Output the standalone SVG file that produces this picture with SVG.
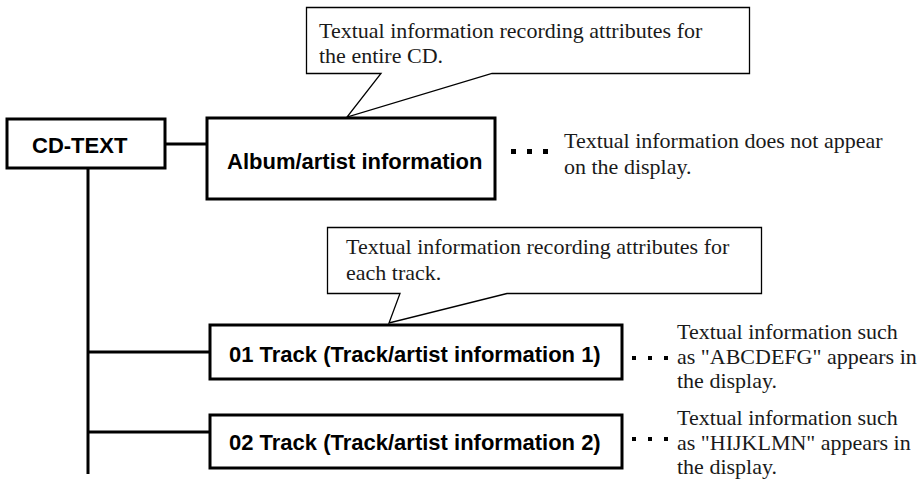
<svg xmlns="http://www.w3.org/2000/svg" width="923" height="488" viewBox="0 0 923 488">
<style>
.box{fill:#fff;stroke:#000;stroke-width:3}
.call{fill:#fff;stroke:#000;stroke-width:1.3;stroke-linejoin:miter}
.bold{font-family:"Liberation Sans",Arial,sans-serif;font-weight:bold;font-size:22px;fill:#000}
.serif{font-family:"Liberation Serif","Times New Roman",serif;font-size:22px;fill:#1a1a1a}
.line{stroke:#000;stroke-width:3;fill:none}
.dot{fill:#000}
</style>
<rect width="923" height="488" fill="#fff"/>
<g id="connectors">
<line class="line" x1="165" y1="144" x2="207" y2="144"/>
<line class="line" x1="88" y1="168" x2="88" y2="474"/>
<line class="line" x1="88" y1="352" x2="210" y2="352"/>
<line class="line" x1="88" y1="432" x2="210" y2="432"/>
</g>
<g id="cdtext">
<rect class="box" x="7" y="119" width="158" height="49"/>
<text class="bold" x="32" y="153">CD-TEXT</text>
</g>
<g id="album">
<rect class="box" x="207" y="118" width="288" height="81"/>
<text class="bold" x="227" y="169">Album/artist information</text>
</g>
<g id="callout-album">
<path class="call" d="M306.5,7.5 H749.5 V73.5 H492 L347,117 L381,73.5 H306.5 Z"/>
<text class="serif" x="319" y="38">Textual information recording attributes for</text>
<text class="serif" x="319" y="63">the entire CD.</text>
</g>
<g id="note-album">
<rect class="dot" x="511" y="149" width="5" height="5"/>
<rect class="dot" x="527" y="149" width="5" height="5"/>
<rect class="dot" x="543" y="149" width="5" height="5"/>
<text class="serif" x="564" y="148">Textual information does not appear</text>
<text class="serif" x="564" y="174">on the display.</text>
</g>
<g id="track1">
<rect class="box" x="210" y="325" width="412" height="54"/>
<text class="bold" x="229" y="362">01 Track (Track/artist information 1)</text>
</g>
<g id="callout-track">
<path class="call" d="M327.5,227.5 H761.5 V293.5 H507 L389,323 L400,293.5 H327.5 Z"/>
<text class="serif" x="346" y="254">Textual information recording attributes for</text>
<text class="serif" x="346" y="280">each track.</text>
</g>
<g id="note-track1">
<rect class="dot" x="632" y="356" width="4" height="4"/>
<rect class="dot" x="648" y="356" width="4" height="4"/>
<rect class="dot" x="664" y="356" width="4" height="4"/>
<text class="serif" x="677" y="339">Textual information such</text>
<text class="serif" x="677" y="364">as "ABCDEFG" appears in</text>
<text class="serif" x="677" y="388">the display.</text>
</g>
<g id="track2">
<rect class="box" x="210" y="415" width="412" height="53"/>
<text class="bold" x="229" y="450">02 Track (Track/artist information 2)</text>
</g>
<g id="note-track2">
<rect class="dot" x="632" y="437" width="4" height="4"/>
<rect class="dot" x="648" y="437" width="4" height="4"/>
<rect class="dot" x="664" y="437" width="4" height="4"/>
<text class="serif" x="677" y="425">Textual information such</text>
<text class="serif" x="677" y="450">as "HIJKLMN" appears in</text>
<text class="serif" x="677" y="474">the display.</text>
</g>
</svg>
